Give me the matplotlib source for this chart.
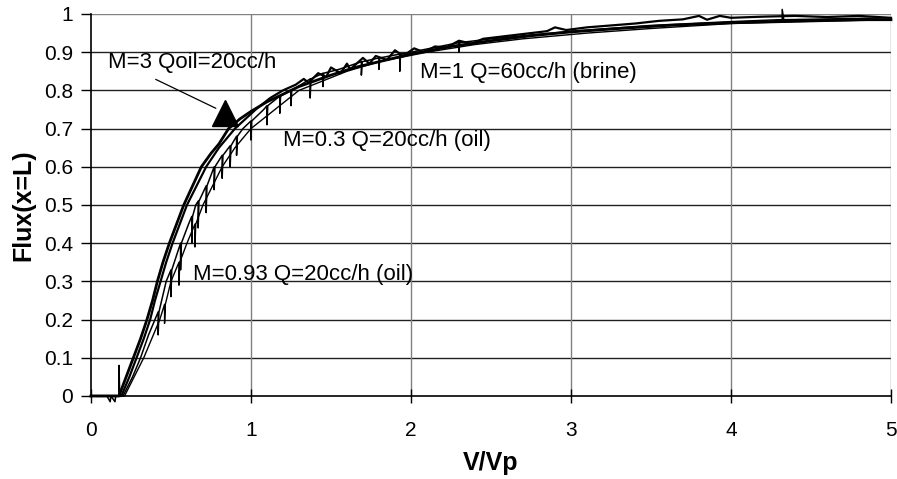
import matplotlib
matplotlib.use('Agg')
import matplotlib.pyplot as plt

plt.rcParams['font.family'] = ['Liberation Sans', 'DejaVu Sans']

# Curve 1: M=3 Qoil=20cc/h (thick, smooth)
m3_x = [0, 0.12, 0.175, 0.22, 0.265, 0.31, 0.35, 0.385, 0.415, 0.45, 0.49, 0.535, 0.58,
        0.635, 0.69, 0.75, 0.8, 0.86, 0.93, 1.0, 1.1, 1.2, 1.3, 1.4, 1.5, 1.65, 1.8, 2.0,
        2.25, 2.5, 2.75, 3.0, 3.3, 3.6, 4.0, 4.4, 4.8, 5.0]
m3_y = [0, 0, 0.0, 0.05, 0.1, 0.15, 0.2, 0.25, 0.3, 0.35, 0.4, 0.45, 0.5,
        0.55, 0.6, 0.635, 0.66, 0.7, 0.725, 0.745, 0.77, 0.79, 0.81, 0.825, 0.84, 0.86, 0.875, 0.895,
        0.915, 0.93, 0.943, 0.953, 0.962, 0.97, 0.977, 0.982, 0.985, 0.985]

# Curve 2: M=1 Q=60cc/h (brine), thick with jagged noise at the top
m1_x = [0, 0.14, 0.19, 0.24, 0.285, 0.33, 0.37, 0.4, 0.435, 0.47, 0.51, 0.555, 0.6, 0.66,
        0.72, 0.8, 0.9, 1.03, 1.12, 1.2, 1.28, 1.33, 1.36, 1.42, 1.47, 1.5, 1.56, 1.6, 1.62,
        1.7, 1.74, 1.78, 1.85, 1.9, 1.95, 2.02, 2.08, 2.15, 2.22, 2.3, 2.38, 2.45, 2.55,
        2.65, 2.75, 2.85, 2.9, 2.97, 3.1, 3.25, 3.4, 3.55, 3.7, 3.8, 3.85, 3.93, 4.0, 4.2,
        4.4, 4.6, 4.8, 5.0]
m1_y = [0, 0, 0.0, 0.05, 0.1, 0.15, 0.2, 0.25, 0.3, 0.35, 0.4, 0.45, 0.5, 0.55,
        0.6, 0.65, 0.7, 0.75, 0.78, 0.8, 0.815, 0.83, 0.82, 0.845, 0.835, 0.86, 0.845, 0.87, 0.855,
        0.885, 0.87, 0.89, 0.88, 0.905, 0.89, 0.91, 0.9, 0.915, 0.912, 0.93, 0.922, 0.935, 0.94,
        0.945, 0.95, 0.955, 0.965, 0.958, 0.965, 0.97, 0.975, 0.982, 0.986, 0.995, 0.985, 0.995, 0.99, 0.993,
        0.995, 0.992, 0.995, 0.99]

# Curve 3: M=0.3 Q=20cc/h (oil), thin with downward spikes
m03_x = [0, 0.1, 0.12, 0.125, 0.15, 0.155, 0.175, 0.175, 0.18, 0.2, 0.26, 0.31, 0.36, 0.4,
         0.42, 0.42, 0.425, 0.47, 0.5, 0.5, 0.505, 0.56, 0.56, 0.565, 0.61, 0.63, 0.63, 0.635,
         0.655, 0.67, 0.67, 0.675, 0.72, 0.72, 0.725, 0.77, 0.77, 0.775, 0.82, 0.82, 0.825,
         0.87, 0.87, 0.875, 0.91, 0.91, 0.915, 0.95, 1.0, 1.0, 1.005, 1.08, 1.1, 1.1, 1.105,
         1.18, 1.18, 1.185, 1.25, 1.25, 1.255, 1.37, 1.37, 1.375, 1.45, 1.45, 1.455, 1.55,
         1.69, 1.69, 1.695, 1.8, 1.8, 1.805, 1.93, 1.93, 1.935, 2.0, 2.3, 2.3, 2.305, 2.5,
         3.0, 3.5, 4.0, 4.3, 4.32, 4.32, 4.33, 4.6, 5.0]
m03_y = [0, 0, -0.015, 0, -0.015, 0, 0, 0.08, 0, 0, 0.05, 0.1, 0.16, 0.2,
         0.22, 0.16, 0.22, 0.3, 0.33, 0.26, 0.33, 0.4, 0.33, 0.4, 0.45, 0.47, 0.4, 0.47,
         0.5, 0.51, 0.44, 0.51, 0.55, 0.48, 0.55, 0.6, 0.54, 0.6, 0.63, 0.57, 0.63,
         0.655, 0.6, 0.655, 0.68, 0.63, 0.68, 0.7, 0.72, 0.67, 0.72, 0.75, 0.76, 0.71, 0.76,
         0.785, 0.74, 0.785, 0.8, 0.76, 0.8, 0.83, 0.78, 0.83, 0.845, 0.81, 0.845, 0.855,
         0.875, 0.84, 0.875, 0.885, 0.855, 0.885, 0.895, 0.85, 0.895, 0.9, 0.925, 0.9, 0.925, 0.935,
         0.955, 0.97, 0.98, 0.985, 0.985, 1.012, 0.985, 0.987, 0.99]

# Curve 4: M=0.93 Q=20cc/h (oil), thin, rightmost
m093_x = [0, 0.16, 0.21, 0.27, 0.33, 0.38, 0.43, 0.46, 0.46, 0.465, 0.5, 0.55, 0.55, 0.555,
          0.6, 0.65, 0.65, 0.655, 0.7, 0.76, 0.82, 0.9, 1.0, 1.15, 1.3, 1.45, 1.6, 1.8,
          2.1, 2.4, 2.7, 3.1, 3.5, 4.0, 4.5, 5.0]
m093_y = [0, 0, 0.0, 0.05, 0.1, 0.15, 0.2, 0.24, 0.19, 0.24, 0.3, 0.35, 0.29, 0.35,
          0.4, 0.45, 0.39, 0.45, 0.5, 0.55, 0.6, 0.65, 0.7, 0.75, 0.8, 0.825, 0.85, 0.875,
          0.9, 0.92, 0.935, 0.95, 0.962, 0.975, 0.98, 0.985]

x_ticks = [0, 1, 2, 3, 4, 5]
y_ticks = [0, 0.1, 0.2, 0.3, 0.4, 0.5, 0.6, 0.7, 0.8, 0.9, 1]
y_tick_labels = ['0', '0.1', '0.2', '0.3', '0.4', '0.5', '0.6', '0.7', '0.8', '0.9', '1']

fig = plt.figure(figsize=(8.97, 4.79), dpi=100)
ax = fig.add_axes([0.1014, 0.1733, 0.8919, 0.7975])

# grid
for yv in y_ticks[1:]:
    ax.axhline(yv, color='#202020' if yv < 1 else '#808080', lw=1.0, zorder=1)
for xv in x_ticks[1:]:
    ax.axvline(xv, color='#808080', lw=1.0, zorder=1)

ax.plot(m093_x, m093_y, color='black', lw=1.0, clip_on=False, zorder=3)
ax.plot(m03_x, m03_y, color='black', lw=1.1, clip_on=False, zorder=3)
ax.plot(m1_x, m1_y, color='black', lw=1.6, clip_on=False, zorder=3)
ax.plot(m3_x, m3_y, color='black', lw=2.0, clip_on=False, zorder=4)

ax.set_xlim(0, 5)
ax.set_ylim(0, 1)
ax.set_xticks(x_ticks)
ax.set_yticks(y_ticks)
ax.set_yticklabels(y_tick_labels)
ax.tick_params(axis='y', direction='out', length=7, width=1, labelsize=15, pad=6)
ax.tick_params(axis='x', direction='inout', length=10, width=1, labelsize=15, pad=13)

for side in ['top', 'right']:
    ax.spines[side].set_visible(False)
ax.spines['left'].set_linewidth(1.2)
ax.spines['bottom'].set_linewidth(1.2)

ax.set_xlabel('V/Vp', fontsize=18, fontweight='bold', labelpad=8)
ax.set_ylabel('Flux(x=L)', fontsize=18, fontweight='bold', labelpad=6)

# labels
ax.text(0.106, 0.874, 'M=3 Qoil=20cc/h', fontsize=16, va='center', ha='left')
ax.annotate('', xy=(0.796, 0.75), xytext=(0.389, 0.832),
            arrowprops=dict(arrowstyle='-', color='black', lw=0.9))
ax.plot([0.84], [0.742], marker='^', markersize=19, color='black', zorder=5)
ax.text(2.056, 0.848, 'M=1 Q=60cc/h (brine)', fontsize=16, va='center', ha='left')
ax.text(1.2, 0.668, 'M=0.3 Q=20cc/h (oil)', fontsize=16, va='center', ha='left')
ax.text(0.635, 0.317, 'M=0.93 Q=20cc/h (oil)', fontsize=16, va='center', ha='left')

fig.savefig('out.png', dpi=100)
